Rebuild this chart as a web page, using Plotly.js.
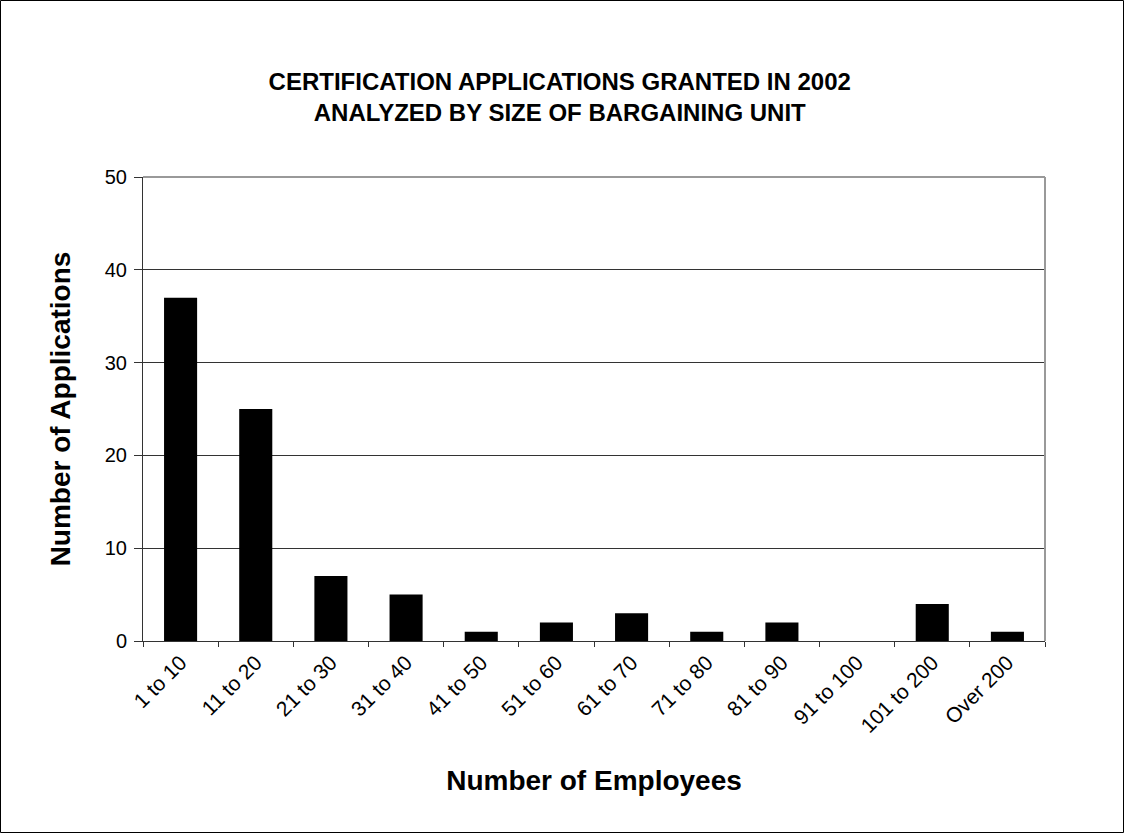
<!DOCTYPE html>
<html>
<head>
<meta charset="utf-8">
<script src="https://cdn.plot.ly/plotly-3.0.1.min.js"></script>
<style>
html,body{margin:0;padding:0;background:#fff;}
#chart{width:1124px;height:833px;}
</style>
</head>
<body>
<div id="chart"></div>
<script>
var categories = ["1 to 10","11 to 20","21 to 30","31 to 40","41 to 50","51 to 60","61 to 70","71 to 80","81 to 90","91 to 100","101 to 200","Over 200"];
var applications = [37, 25, 7, 5, 1, 2, 3, 1, 2, 0, 4, 1];
var yTicks = [0, 10, 20, 30, 40, 50];

var L = 143, R = 1045, T = 177, B = 641, W = 1124, H = 833;
function px(x){ return (x - L) / (R - L); }
function py(y){ return (B - y) / (B - T); }

var trace = {
  type: 'bar',
  x: categories,
  y: applications,
  marker: {color: '#000000', line: {width: 0}},
  hoverinfo: 'x+y'
};

var layout = {
  width: W, height: H,
  margin: {l: L, r: W - R, t: T, b: H - B, pad: 0},
  paper_bgcolor: '#ffffff',
  plot_bgcolor: '#ffffff',
  showlegend: false,
  bargap: 0.56,
  font: {family: 'Liberation Sans, Arial, sans-serif', color: '#000000', size: 20},
  title: {
    text: 'CERTIFICATION APPLICATIONS GRANTED IN 2002<br>ANALYZED BY SIZE OF BARGAINING UNIT',
    font: {family: 'Liberation Sans, Arial, sans-serif', size: 24, color: '#000000', weight: 'bold'},
    x: 0.498, xanchor: 'center', y: 0.892, yanchor: 'middle'
  },
  xaxis: {
    type: 'category',
    tickangle: -45,
    tickson: 'boundaries',
    ticks: 'outside', ticklen: 5, tickcolor: '#333333', tickwidth: 1,
    showline: true, linecolor: '#333333', linewidth: 1,
    showgrid: false, zeroline: false,
    tickfont: {size: 21},
    title: {text: 'Number of Employees', font: {size: 28, weight: 'bold'}, standoff: 34},
    automargin: false
  },
  yaxis: {
    range: [0, 50],
    tickvals: yTicks,
    ticks: 'outside', ticklen: 8, tickcolor: '#333333', tickwidth: 1,
    showline: true, linecolor: '#333333', linewidth: 1,
    showgrid: true, gridcolor: '#333333', gridwidth: 1,
    zeroline: false,
    tickfont: {size: 20},
    ticklabelstandoff: 3,
    title: {text: 'Number of Applications', font: {size: 28, weight: 'bold'}, standoff: 25},
    automargin: false
  },
  shapes: [
    {type: 'line', xref: 'paper', yref: 'paper', x0: 0, x1: 1, y0: 1, y1: 1, line: {color: '#999999', width: 2}, layer: 'above'},
    {type: 'line', xref: 'paper', yref: 'paper', x0: 1, x1: 1, y0: 0, y1: 1, line: {color: '#999999', width: 2}, layer: 'above'},
    {type: 'rect', xref: 'paper', yref: 'paper', x0: px(0.5), x1: px(W - 0.5), y0: py(H - 0.5), y1: py(0.5), line: {color: '#000000', width: 1}, fillcolor: 'rgba(0,0,0,0)'}
  ]
};

Plotly.newPlot('chart', [trace], layout, {displayModeBar: false, staticPlot: true});
</script>
</body>
</html>
